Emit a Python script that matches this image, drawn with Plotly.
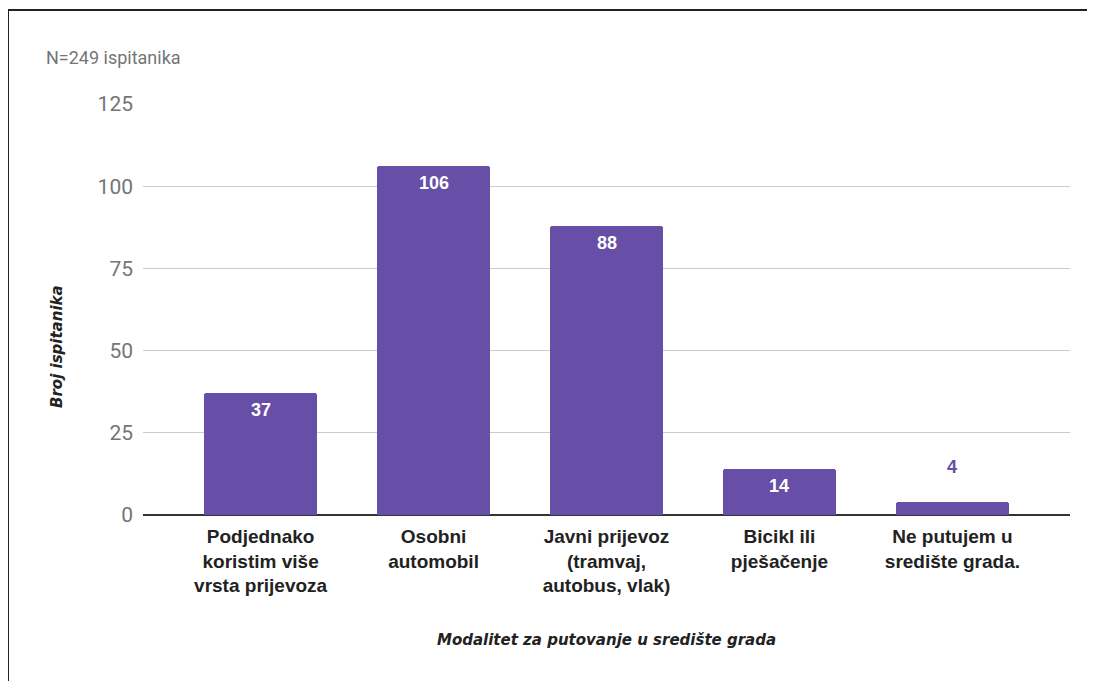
import plotly.graph_objects as go

categories = [
    "Podjednako<br>koristim više<br>vrsta prijevoza",
    "Osobni<br>automobil",
    "Javni prijevoz<br>(tramvaj,<br>autobus, vlak)",
    "Bicikl ili<br>pješačenje",
    "Ne putujem u<br>središte grada.",
]
values = [37, 106, 88, 14, 4]
y_ticks = [0, 25, 50, 75, 100, 125]

BAR = "#674ea7"

# reference pixel geometry (page includes an 8px body margin)
PL, PR, PT, PB = 143, 1070, 104, 515
PW, PH = PR - PL, PB - PT


def px(xr):
    return (xr - PL) / PW


def py(yr):
    return (PB - yr) / PH


fig = go.Figure()
fig.add_trace(go.Bar(
    x=list(range(len(categories))),
    y=values,
    width=0.655,
    marker=dict(color=BAR, cornerradius=3, line=dict(width=0)),
    hoverinfo="skip",
))

annotations = []
for i, v in enumerate(values):
    inside = v >= 10
    annotations.append(dict(
        x=i, y=v, xref="x", yref="y",
        text=f"<b>{v}</b>",
        showarrow=False,
        yshift=-17 if inside else 35,
        font=dict(family="Liberation Sans, Arial", size=18,
                  color="#ffffff" if inside else BAR),
    ))

annotations.append(dict(
    x=px(113), y=py(58), xref="paper", yref="paper", text="N=249 ispitanika",
    showarrow=False, xanchor="center", yanchor="middle",
    font=dict(family="Roboto, Arial", size=18, color="#757575"),
))
annotations.append(dict(
    x=px(57), y=py(347), xref="paper", yref="paper",
    text="<b><i>Broj ispitanika</i></b>", textangle=-90, showarrow=False,
    xanchor="center", yanchor="middle",
    font=dict(family="DejaVu Sans", size=15, color="#222222"),
))
annotations.append(dict(
    x=0.5, y=py(640), xref="paper", yref="paper",
    text="<b><i>Modalitet za putovanje u središte grada</i></b>", showarrow=False,
    xanchor="center", yanchor="middle",
    font=dict(family="DejaVu Sans", size=15, color="#222222"),
))

bx = px(8)
by = py(10)
shapes = [
    dict(type="line", xref="paper", yref="paper", x0=bx, x1=bx, y0=-1, y1=by,
         line=dict(color="#222222", width=2)),
    dict(type="line", xref="paper", yref="paper", x0=bx, x1=2, y0=by, y1=by,
         line=dict(color="#222222", width=2)),
]

fig.update_layout(
    width=1095, height=681, autosize=False,
    margin=dict(l=PL - 8, r=1095 - (PR - 8), t=PT - 8, b=681 - (PB - 8), pad=0),
    paper_bgcolor="white", plot_bgcolor="white",
    showlegend=False,
    bargap=0,
    annotations=annotations,
    shapes=shapes,
    xaxis=dict(
        range=[-0.68, 4.68],
        tickmode="array",
        tickvals=list(range(len(categories))),
        ticktext=[f"<b>{c}</b>" for c in categories],
        tickfont=dict(family="Liberation Sans, Arial", size=19, color="#222222"),
        showgrid=False, zeroline=False, showline=False, ticks="",
        ticklabelstandoff=8,
        fixedrange=True,
    ),
    yaxis=dict(
        range=[0, 125],
        tickmode="array",
        tickvals=y_ticks,
        ticktext=[str(t) for t in y_ticks],
        tickfont=dict(family="Roboto, Arial", size=21, color="#757575"),
        showgrid=True, gridcolor="#cccccc", gridwidth=1,
        zeroline=True, zerolinecolor="#333333", zerolinewidth=2,
        showline=False, ticks="", ticklabelstandoff=9,
        fixedrange=True,
    ),
)

fig.write_html("out.html")
